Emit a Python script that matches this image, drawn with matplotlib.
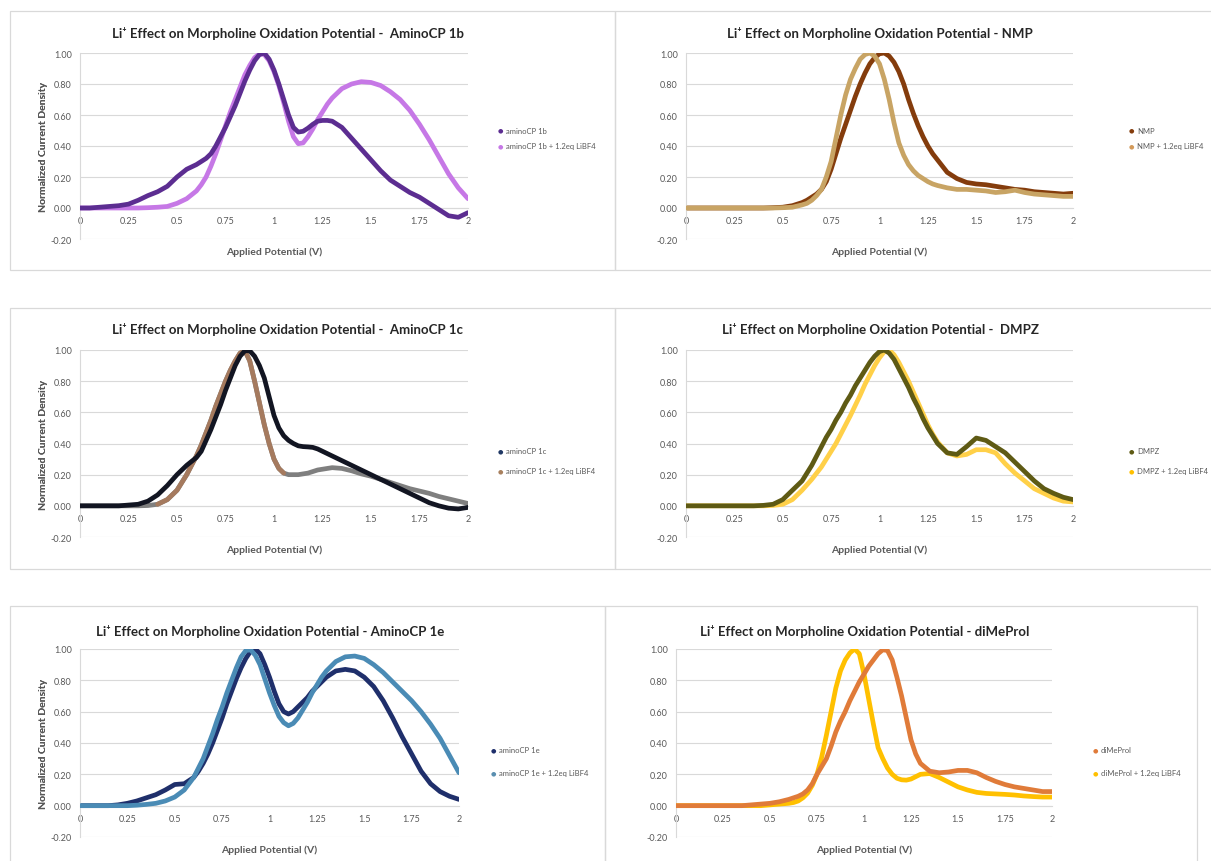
"""
Li+ effect on morpholine oxidation potential, six panels.
"""

import matplotlib
matplotlib.use('Agg')
import matplotlib.pyplot as plt
from matplotlib.patches import Rectangle

plt.rcParams['font.family'] = ['Lato', 'DejaVu Sans']

# applied potential (V): 0.05 V steps, 0.025 V steps around the peaks
volts = ([round(0.05 * i, 3) for i in range(13)]
         + [round(0.625 + 0.025 * i, 3) for i in range(28)]
         + [round(1.35 + 0.05 * i, 3) for i in range(14)])

amino_1b = [0, 0, 0.005, 0.01, 0.015, 0.025, 0.05, 0.08, 0.105, 0.14, 0.2, 0.25, 0.28,
            0.3, 0.32, 0.35, 0.4, 0.46, 0.52, 0.59, 0.66, 0.74, 0.82, 0.89, 0.95, 0.99, 1.0,
            0.96, 0.89, 0.8, 0.7, 0.6, 0.52, 0.49, 0.495, 0.515, 0.54, 0.56, 0.565, 0.565, 0.56,
            0.52, 0.45, 0.38, 0.31, 0.24, 0.18, 0.14, 0.1, 0.07, 0.03, -0.01, -0.05, -0.06, -0.03]
amino_1b_li = [0, 0, 0, 0, 0, 0, 0, 0.002, 0.005, 0.01, 0.03, 0.06, 0.11,
               0.15, 0.2, 0.27, 0.35, 0.44, 0.53, 0.62, 0.7, 0.78, 0.86, 0.92, 0.97, 0.995, 0.99,
               0.95, 0.88, 0.79, 0.68, 0.56, 0.46, 0.415, 0.42, 0.46, 0.51, 0.57, 0.62, 0.67, 0.71,
               0.77, 0.8, 0.815, 0.81, 0.79, 0.75, 0.7, 0.63, 0.54, 0.44, 0.33, 0.22, 0.13, 0.06]
nmp = [0, 0, 0, 0, 0, 0, 0, 0, 0, 0.002, 0.005, 0.015, 0.035,
       0.05, 0.07, 0.09, 0.12, 0.17, 0.25, 0.35, 0.45, 0.54, 0.63, 0.72, 0.8, 0.87, 0.93,
       0.97, 0.995, 1.0, 0.98, 0.94, 0.88, 0.8, 0.7, 0.61, 0.53, 0.46, 0.4, 0.35, 0.31,
       0.23, 0.19, 0.165, 0.155, 0.15, 0.14, 0.13, 0.12, 0.115, 0.105, 0.1, 0.095, 0.09, 0.095]
nmp_li = [0, 0, 0, 0, 0, 0, 0, 0, 0, 0, 0.002, 0.005, 0.02,
          0.03, 0.05, 0.08, 0.12, 0.2, 0.3, 0.45, 0.6, 0.73, 0.83, 0.9, 0.96, 0.99, 1.0,
          0.98, 0.93, 0.83, 0.7, 0.55, 0.42, 0.34, 0.28, 0.24, 0.21, 0.19, 0.17, 0.155, 0.145,
          0.13, 0.12, 0.12, 0.115, 0.11, 0.1, 0.105, 0.115, 0.1, 0.09, 0.085, 0.08, 0.075, 0.075]
amino_1c = [0, 0, 0, 0, 0, 0.005, 0.01, 0.03, 0.07, 0.13, 0.2, 0.26, 0.31,
            0.35, 0.42, 0.49, 0.57, 0.65, 0.74, 0.82, 0.9, 0.96, 0.995, 0.995, 0.96, 0.9, 0.82,
            0.7, 0.58, 0.5, 0.45, 0.42, 0.4, 0.385, 0.38, 0.378, 0.375, 0.365, 0.35, 0.335, 0.32,
            0.29, 0.26, 0.23, 0.2, 0.17, 0.14, 0.11, 0.08, 0.05, 0.02, 0.0, -0.015, -0.02, -0.01]
amino_1c_li = [0, 0, 0, 0, 0, 0, 0, 0.002, 0.01, 0.04, 0.1, 0.2, 0.32,
               0.39, 0.47, 0.55, 0.64, 0.72, 0.8, 0.87, 0.93, 0.98, 0.995, 0.93, 0.8, 0.66, 0.52,
               0.4, 0.3, 0.24, 0.21, 0.2, 0.2, 0.2, 0.205, 0.21, 0.22, 0.23, 0.235, 0.24, 0.245,
               0.24, 0.225, 0.205, 0.19, 0.17, 0.15, 0.13, 0.11, 0.095, 0.08, 0.06, 0.045, 0.03, 0.015]
dmpz = [0, 0, 0, 0, 0, 0, 0, 0, 0.003, 0.01, 0.04, 0.1, 0.16,
        0.21, 0.26, 0.32, 0.38, 0.44, 0.49, 0.55, 0.6, 0.66, 0.71, 0.77, 0.82, 0.87, 0.92,
        0.96, 0.99, 1.0, 0.98, 0.94, 0.88, 0.82, 0.76, 0.69, 0.63, 0.56, 0.5, 0.45, 0.4,
        0.34, 0.33, 0.38, 0.435, 0.42, 0.38, 0.34, 0.28, 0.22, 0.16, 0.11, 0.08, 0.055, 0.04]
dmpz_li = [0, 0, 0, 0, 0, 0, 0, 0, 0, 0.003, 0.01, 0.04, 0.1,
           0.135, 0.17, 0.21, 0.25, 0.3, 0.35, 0.4, 0.46, 0.52, 0.58, 0.645, 0.71, 0.78, 0.84,
           0.9, 0.95, 0.99, 1.0, 0.97, 0.92, 0.86, 0.8, 0.73, 0.66, 0.59, 0.52, 0.46, 0.41,
           0.34, 0.32, 0.33, 0.36, 0.36, 0.34, 0.27, 0.21, 0.16, 0.11, 0.08, 0.05, 0.03, 0.025]
amino_1e = [0, 0, 0, 0, 0.005, 0.015, 0.03, 0.05, 0.07, 0.1, 0.135, 0.14, 0.18,
            0.22, 0.27, 0.33, 0.4, 0.48, 0.56, 0.65, 0.73, 0.81, 0.88, 0.94, 0.985, 1.0, 0.97,
            0.9, 0.82, 0.73, 0.65, 0.6, 0.585, 0.6, 0.63, 0.66, 0.69, 0.73, 0.76, 0.79, 0.82,
            0.86, 0.87, 0.86, 0.82, 0.76, 0.67, 0.56, 0.44, 0.33, 0.22, 0.14, 0.09, 0.06, 0.04]
amino_1e_li = [0, 0, 0, 0, 0, 0, 0.003, 0.008, 0.015, 0.03, 0.055, 0.1, 0.18,
               0.24, 0.3, 0.38, 0.46, 0.55, 0.63, 0.72, 0.8, 0.88, 0.95, 0.99, 0.995, 0.96, 0.9,
               0.81, 0.72, 0.64, 0.57, 0.53, 0.51, 0.525, 0.56, 0.61, 0.66, 0.72, 0.77, 0.82, 0.86,
               0.92, 0.95, 0.955, 0.94, 0.9, 0.85, 0.79, 0.73, 0.67, 0.6, 0.52, 0.43, 0.32, 0.21]
dimeprol = [0, 0, 0, 0, 0, 0, 0, 0, 0.005, 0.01, 0.015, 0.025, 0.04,
            0.05, 0.06, 0.075, 0.1, 0.14, 0.2, 0.25, 0.3, 0.38, 0.47, 0.54, 0.6, 0.67, 0.73,
            0.79, 0.84, 0.89, 0.93, 0.97, 0.995, 0.99, 0.93, 0.82, 0.7, 0.56, 0.42, 0.33, 0.27,
            0.22, 0.21, 0.215, 0.225, 0.225, 0.21, 0.18, 0.155, 0.135, 0.12, 0.11, 0.1, 0.09, 0.09]
dimeprol_li = [0, 0, 0, 0, 0, 0, 0, 0, 0, 0, 0.005, 0.01, 0.015,
               0.02, 0.03, 0.05, 0.08, 0.13, 0.2, 0.31, 0.45, 0.6, 0.75, 0.86, 0.93, 0.975, 1.0,
               0.97, 0.84, 0.68, 0.52, 0.37, 0.3, 0.24, 0.2, 0.175, 0.165, 0.163, 0.17, 0.185, 0.2,
               0.205, 0.18, 0.15, 0.12, 0.1, 0.085, 0.078, 0.075, 0.072, 0.068, 0.062, 0.058, 0.055, 0.055]

titles = ['Li\u207a Effect on Morpholine Oxidation Potential -  AminoCP 1b',
          'Li\u207a Effect on Morpholine Oxidation Potential - NMP',
          'Li\u207a Effect on Morpholine Oxidation Potential -  AminoCP 1c',
          'Li\u207a Effect on Morpholine Oxidation Potential -  DMPZ',
          'Li\u207a Effect on Morpholine Oxidation Potential - AminoCP 1e',
          'Li\u207a Effect on Morpholine Oxidation Potential - diMeProl']
labels = [('aminoCP 1b', 'aminoCP 1b + 1.2eq LiBF4'),
          ('NMP', 'NMP + 1.2eq LiBF4'),
          ('aminoCP 1c', 'aminoCP 1c + 1.2eq LiBF4'),
          ('DMPZ', 'DMPZ + 1.2eq LiBF4'),
          ('aminoCP 1e', 'aminoCP 1e + 1.2eq LiBF4'),
          ('diMeProl', 'diMeProl + 1.2eq LiBF4')]
series = [(amino_1b, amino_1b_li), (nmp, nmp_li), (amino_1c, amino_1c_li),
          (dmpz, dmpz_li), (amino_1e, amino_1e_li), (dimeprol, dimeprol_li)]
colors = [('#5C2D91', '#C678E6'), ('#843C0C', '#C8A464'), ('#121522', '#7F7F7F'),
          ('#5E5A14', '#FFD048'), ('#1F2F6B', '#4A8BB5'), ('#E07B39', '#FFC000')]
marker_colors = [('#5C2D91', '#C678E6'), ('#843C0C', '#D39A5A'), ('#203864', '#A8805E'),
                 ('#5E5A14', '#FFC000'), ('#1F2F6B', '#5A8FB0'), ('#E07B39', '#FFC000')]

W, H = 1211, 862
# pixel layout: panel box, plot area, title centre, legend anchor
boxes = [(10, 12, 615, 271), (615, 12, 1225, 271),
         (10, 309, 615, 570), (615, 309, 1225, 570),
         (10, 607, 605, 875), (605, 607, 1197, 875)]
areas = [(80, 54, 468, 240), (686, 54, 1073, 240),
         (80, 351, 468, 538), (686, 351, 1073, 538),
         (80, 650, 459, 838), (676, 650, 1052, 838)]
title_pos = [(288, 33), (880, 33), (288, 330), (880, 330), (270, 631), (865, 631)]
legend_pos = [(500, 131), (1131, 131), (500, 452), (1131, 452), (493, 751), (1095, 751)]
legend_gap = [16, 16, 20, 20, 23, 23]

grey_txt = '#595959'


def fx(px):
    return px / W


def fy(py):
    return 1 - py / H


fig = plt.figure(figsize=(W / 100, H / 100), dpi=100)

for i in range(6):
    bx0, by0, bx1, by1 = boxes[i]
    fig.patches.append(Rectangle((fx(bx0), fy(by1)), fx(bx1 - bx0), (by1 - by0) / H,
                                 transform=fig.transFigure, fill=False,
                                 edgecolor='#D9D9D9', linewidth=0.9))
    l, t, r, b = areas[i]
    ax = fig.add_axes([fx(l), fy(b), fx(r - l), (b - t) / H])
    ax.set_xlim(0, 2)
    ax.set_ylim(-0.2, 1.0)
    ax.set_yticks([-0.2, 0, 0.2, 0.4, 0.6, 0.8, 1.0])
    ax.set_yticklabels(['-0.20', '0.00', '0.20', '0.40', '0.60', '0.80', '1.00'])
    ax.set_xticks([0, 0.25, 0.5, 0.75, 1, 1.25, 1.5, 1.75, 2])
    ax.set_xticklabels(['0', '0.25', '0.5', '0.75', '1', '1.25', '1.5', '1.75', '2'])
    ax.grid(axis='y', color='#D9D9D9', linewidth=0.8)
    ax.set_axisbelow(True)
    for s in ['top', 'right']:
        ax.spines[s].set_visible(False)
    ax.spines['bottom'].set_position(('data', 0))
    ax.spines['bottom'].set_color('#D9D9D9')
    ax.spines['left'].set_color('#D9D9D9')
    ax.tick_params(length=0, labelsize=6.5, labelcolor=grey_txt, pad=6)

    base, li = series[i]
    c0, c1 = colors[i]
    ax.plot(volts, li, color=c1, linewidth=3.4, solid_capstyle='round', zorder=3)
    if i == 2:
        # rising part of the LiBF4 trace shows brownish in the original
        ax.plot(volts[8:31], li[8:31], color='#A57A5E', linewidth=3.4,
                solid_capstyle='round', zorder=3)
    ax.plot(volts, base, color=c0, linewidth=3.4, solid_capstyle='round',
            zorder=2 if i in (1, 4) else 4)

    fig.text(fx(title_pos[i][0]), fy(title_pos[i][1]), titles[i], ha='center',
             va='center', fontsize=9.5, fontweight='bold', color='#262626')
    fig.text(fx(44), fy((t + b) / 2), 'Normalized Current Density', rotation=90,
             ha='center', va='center', fontsize=7.5, fontweight='bold', color=grey_txt)
    fig.text(fx((l + r) / 2), fy(b + 12), 'Applied Potential (V)', ha='center',
             va='center', fontsize=7.5, fontweight='bold', color=grey_txt)

    lx, ly = legend_pos[i]
    for k in range(2):
        yy = ly + k * legend_gap[i]
        fig.text(fx(lx), fy(yy), '\u25cf', ha='center', va='center', fontsize=4.5,
                 color=marker_colors[i][k], family='DejaVu Sans')
        fig.text(fx(lx + 6), fy(yy), labels[i][k], ha='left', va='center',
                 fontsize=5.5, color=grey_txt)

fig.savefig('out.png', dpi=100, facecolor='white')
